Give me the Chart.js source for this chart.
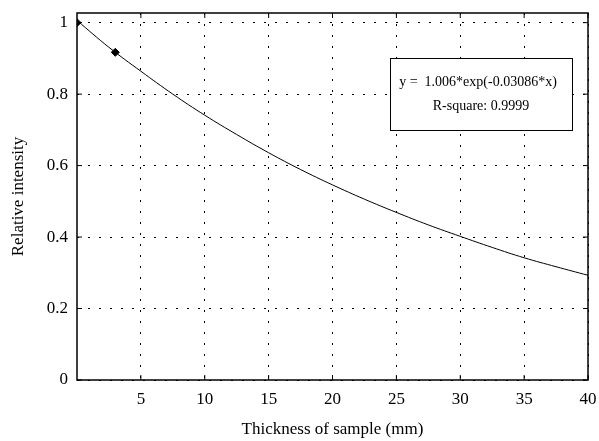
<!DOCTYPE html>
<html>
<head>
<meta charset="utf-8">
<script src="https://cdn.jsdelivr.net/npm/chart.js@4"></script>
<style>
  html, body { margin: 0; padding: 0; background: #fff; }
  #wrap { width: 599px; height: 441px; }
</style>
</head>
<body>
<div id="wrap"><canvas id="fitChart"></canvas></div>
<script>
// measured points
const sampleX = [0, 3];
const sampleY = [1.0, 0.917];

// fitted curve
const fitX = [0, 2.5, 5, 7.5, 10, 12.5, 15, 17.5, 20, 22.5, 25, 27.5, 30, 32.5, 35, 37.5, 40];
const fitY = [1.006, 0.931, 0.864, 0.8, 0.741, 0.687, 0.636, 0.589, 0.546, 0.506, 0.469, 0.434, 0.402, 0.371, 0.342, 0.317, 0.293];

const xTicks = [5, 10, 15, 20, 25, 30, 35, 40];
const yTicks = [0, 0.2, 0.4, 0.6, 0.8, 1];

const fitLines = ['y =  1.006*exp(-0.03086*x)', 'R-square: 0.9999'];
const xTitle = 'Thickness of sample (mm)';
const yTitle = 'Relative intensity';

const serif = '"Liberation Serif", "DejaVu Serif", serif';

const frame = {
  id: 'frame',
  afterDatasetsDraw(chart) {
    const { ctx, chartArea: a, scales } = chart;
    ctx.save();
    ctx.strokeStyle = '#000';
    ctx.lineWidth = 1.5;
    ctx.strokeRect(a.left, a.top, a.right - a.left, a.bottom - a.top);
    // inward ticks
    ctx.lineWidth = 1;
    xTicks.forEach((v) => {
      const px = scales.x.getPixelForValue(v);
      ctx.beginPath();
      ctx.moveTo(px, a.bottom); ctx.lineTo(px, a.bottom - 5);
      ctx.moveTo(px, a.top); ctx.lineTo(px, a.top + 5);
      ctx.stroke();
    });
    yTicks.forEach((v) => {
      const py = scales.y.getPixelForValue(v);
      ctx.beginPath();
      ctx.moveTo(a.left, py); ctx.lineTo(a.left + 5, py);
      ctx.moveTo(a.right, py); ctx.lineTo(a.right - 5, py);
      ctx.stroke();
    });
    // fit box
    const bx = 390, by = 58, bw = 182, bh = 72;
    ctx.fillStyle = '#fff';
    ctx.fillRect(bx, by, bw, bh);
    ctx.strokeRect(bx + 0.5, by + 0.5, bw, bh);
    ctx.fillStyle = '#000';
    ctx.font = '14px ' + serif;
    ctx.textAlign = 'center';
    ctx.textBaseline = 'middle';
    ctx.fillText(fitLines[0], bx + bw / 2 - 3, by + 24);
    ctx.fillText(fitLines[1], bx + bw / 2, by + 48);
    ctx.restore();
  }
};

new Chart(document.getElementById('fitChart'), {
  type: 'scatter',
  data: {
    datasets: [
      {
        label: 'fit',
        data: fitX.map((x, i) => ({ x, y: fitY[i] })),
        showLine: true,
        borderColor: '#000',
        borderWidth: 1,
        pointRadius: 0,
        tension: 0.4
      },
      {
        label: 'data',
        data: sampleX.map((x, i) => ({ x, y: sampleY[i] })),
        backgroundColor: '#000',
        borderColor: '#000',
        pointRadius: 4,
        pointStyle: 'rectRot'
      }
    ]
  },
  plugins: [frame],
  options: {
    responsive: true,
    maintainAspectRatio: false,
    animation: false,
    layout: { padding: { top: 13, right: 11, left: 0, bottom: 0 } },
    plugins: { legend: { display: false }, tooltip: { enabled: false } },
    scales: {
      x: {
        type: 'linear',
        min: 0,
        max: 40,
        afterBuildTicks: (s) => { s.ticks = xTicks.map((v) => ({ value: v })); },
        afterFit: (s) => { s.height = 61; s.paddingRight = 0; s.paddingLeft = 0; },
        grid: { color: '#000', lineWidth: 1, drawTicks: false },
        border: { display: false, dash: [2, 9] },
        ticks: { color: '#000', font: { family: serif, size: 17 }, padding: 9, maxRotation: 0 },
        title: { display: true, text: xTitle, color: '#000', font: { family: serif, size: 17 }, padding: { top: 0, bottom: 1 } }
      },
      y: {
        type: 'linear',
        min: 0,
        max: 1.027,
        afterBuildTicks: (s) => { s.ticks = yTicks.map((v) => ({ value: v })); },
        afterFit: (s) => { s.width = 77; s.paddingTop = 0; s.paddingBottom = 0; },
        grid: { color: '#000', lineWidth: 1, drawTicks: false },
        border: { display: false, dash: [2, 9] },
        ticks: { color: '#000', font: { family: serif, size: 17 }, padding: 9, callback: (v) => String(v) },
        title: { display: true, text: yTitle, color: '#000', font: { family: serif, size: 17 }, padding: { top: 8, bottom: 0 } }
      }
    }
  }
});
</script>
</body>
</html>
